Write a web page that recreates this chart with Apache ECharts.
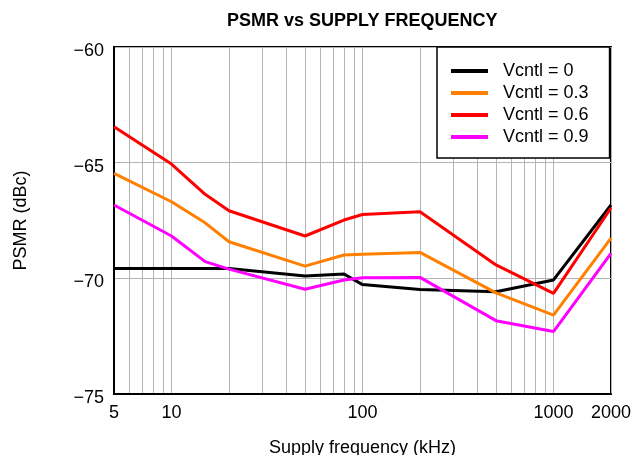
<!DOCTYPE html>
<html>
<head>
<meta charset="utf-8">
<script src="https://cdn.jsdelivr.net/npm/echarts@6/dist/echarts.min.js"></script>
<style>
  html, body { margin: 0; padding: 0; background: #fff; }
  #chart { width: 632px; height: 455px; }
</style>
</head>
<body>
<div id="chart"></div>
<script>
// Supply frequency points (kHz)
const freqKHz = [5, 10, 15, 20, 50, 80, 100, 200, 500, 1000, 2000];

// PSMR (dBc) per control voltage
const psmrV0  = [-69.57, -69.57, -69.57, -69.57, -69.90, -69.81, -70.27, -70.48, -70.58, -70.07, -66.83];
const psmrV03 = [-65.46, -66.69, -67.60, -68.42, -69.47, -68.99, -68.96, -68.88, -70.63, -71.59, -68.26];
const psmrV06 = [-63.45, -65.06, -66.37, -67.08, -68.17, -67.48, -67.24, -67.12, -69.42, -70.65, -66.96];
const psmrV09 = [-66.83, -68.17, -69.28, -69.60, -70.47, -70.07, -69.97, -69.96, -71.83, -72.30, -68.92];

const seriesNames = ['Vcntl = 0', 'Vcntl = 0.3', 'Vcntl = 0.6', 'Vcntl = 0.9'];
const seriesColors = ['#000000', '#ff8000', '#ff0000', '#ff00ff'];
const seriesValues = [psmrV0, psmrV03, psmrV06, psmrV09];

// Axis ticks
const xLabelValues = [5, 10, 100, 1000, 2000];
const xGridValues = [5, 6, 7, 8, 9, 10, 20, 30, 40, 50, 60, 70, 80, 90,
                     100, 200, 300, 400, 500, 600, 700, 800, 900, 1000, 2000];
const yMin = -75, yMax = -60, yStep = 5;

const FONT = 'Arial, "Liberation Sans", sans-serif';

const chart = echarts.init(document.getElementById('chart'), null, { renderer: 'canvas' });

chart.setOption({
  animation: false,
  backgroundColor: '#ffffff',
  title: {
    text: 'PSMR vs SUPPLY FREQUENCY',
    left: 227,
    top: 12,
    padding: 0,
    textStyle: { fontFamily: FONT, fontSize: 18, fontWeight: 'bold', color: '#000' }
  },
  grid: {
    left: 114, right: 21, top: 47, bottom: 61,
    outerBoundsMode: 'none',
    containLabel: false,
    show: true, borderColor: '#000', borderWidth: 2, backgroundColor: 'transparent'
  },
  legend: {
    orient: 'vertical',
    left: 437, top: 47,
    padding: [14, 21, 11, 14],
    backgroundColor: '#fff',
    borderColor: '#000', borderWidth: 1.5,
    icon: 'rect',
    itemWidth: 37, itemHeight: 4,
    itemGap: 2,
    textStyle: { fontFamily: FONT, fontSize: 18, color: '#000', lineHeight: 20, padding: [0, 0, 0, 10] },
    data: seriesNames
  },
  xAxis: {
    type: 'log',
    logBase: 10,
    min: 5, max: 2000,
    name: 'Supply frequency (kHz)',
    nameLocation: 'middle',
    nameGap: 45,
    nameTextStyle: { fontFamily: FONT, fontSize: 18, color: '#000' },
    axisLine: { show: true, lineStyle: { color: '#000', width: 2 } },
    axisTick: { show: false, customValues: xGridValues },
    splitLine: { show: true, lineStyle: { color: '#b4b4b4', width: 1 } },
    axisLabel: {
      customValues: xLabelValues,
      showMinLabel: true, showMaxLabel: true,
      margin: 10,
      fontFamily: FONT, fontSize: 18, color: '#000',
      formatter: v => String(Math.round(v))
    }
  },
  yAxis: {
    type: 'value',
    min: yMin, max: yMax, interval: yStep,
    name: 'PSMR (dBc)',
    nameLocation: 'middle',
    nameRotate: 90,
    nameGap: 84,
    nameTextStyle: { fontFamily: FONT, fontSize: 18, color: '#000' },
    axisLine: { show: true, lineStyle: { color: '#000', width: 2 } },
    axisTick: { show: false },
    splitLine: { show: true, lineStyle: { color: '#b4b4b4', width: 1 } },
    axisLabel: {
      margin: 10,
      fontFamily: FONT, fontSize: 18, color: '#000',
      formatter: v => '{t|' + String(v).replace('-', '\u2212') + '}',
      rich: {
        t: { fontFamily: FONT, fontSize: 18, color: '#000', padding: [8, 0, 0, 0] }
      }
    }
  },
  series: seriesNames.map((name, i) => ({
    name,
    type: 'line',
    data: freqKHz.map((f, j) => [f, seriesValues[i][j]]),
    symbol: 'none',
    smooth: false,
    color: seriesColors[i],
    lineStyle: { color: seriesColors[i], width: 3 },
    z: 3
  }))
});
</script>
</body>
</html>
